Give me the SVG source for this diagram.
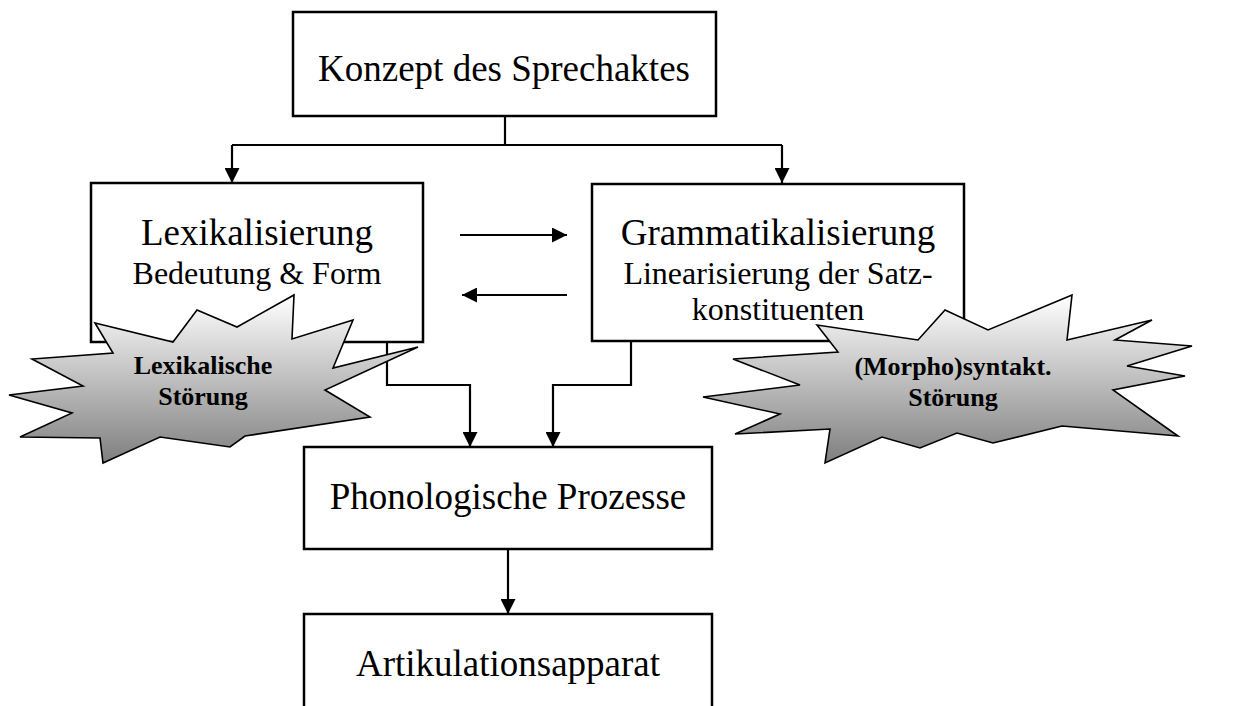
<svg xmlns="http://www.w3.org/2000/svg" width="1243" height="706" viewBox="0 0 1243 706">
  <defs>
    <marker id="arr" markerUnits="userSpaceOnUse" markerWidth="16" markerHeight="15" refX="15" refY="7.5" orient="auto">
      <path d="M0,0 L15,7.5 L0,15 z" fill="#000"/>
    </marker>
    <linearGradient id="burstFill" x1="0" y1="0" x2="0" y2="1">
      <stop offset="0" stop-color="#ffffff"/>
      <stop offset="1" stop-color="#7f7f7f"/>
    </linearGradient>
    <style>
      .box { fill: #fff; stroke: #000; stroke-width: 2.5; }
      .conn { fill: none; stroke: #000; stroke-width: 2.2; }
      .title { font-family: "Liberation Serif", "Times New Roman", serif; font-size: 37px; fill: #000; text-anchor: middle; }
      .sub { font-family: "Liberation Serif", "Times New Roman", serif; font-size: 32px; fill: #000; text-anchor: middle; }
      .burst { fill: url(#burstFill); stroke: #000; stroke-width: 1.6; stroke-linejoin: miter; }
      .btext { font-family: "Liberation Serif", "Times New Roman", serif; font-size: 26px; font-weight: bold; fill: #000; text-anchor: middle; }
    </style>
  </defs>

  <g id="connectors">
    <path class="conn" d="M505,116 V145"/>
    <path class="conn" d="M232,145 H782"/>
    <path class="conn" d="M232,145 V183" marker-end="url(#arr)"/>
    <path class="conn" d="M782,145 V183" marker-end="url(#arr)"/>
    <path class="conn" d="M460,235 H567" marker-end="url(#arr)"/>
    <path class="conn" d="M567,295 H462" marker-end="url(#arr)"/>
    <path class="conn" d="M387,342 V385 H470 V447" marker-end="url(#arr)"/>
    <path class="conn" d="M631,342 V385 H553 V447" marker-end="url(#arr)"/>
    <path class="conn" d="M508,549 V614" marker-end="url(#arr)"/>
  </g>

  <g id="konzept">
    <rect class="box" x="293" y="12" width="423" height="104"/>
    <text class="title" x="504" y="81">Konzept des Sprechaktes</text>
  </g>

  <g id="lexikalisierung">
    <rect class="box" x="91" y="183" width="332" height="159"/>
    <text class="title" x="257" y="245">Lexikalisierung</text>
    <text class="sub" x="257" y="284">Bedeutung &amp; Form</text>
  </g>

  <g id="grammatikalisierung">
    <rect class="box" x="592" y="184" width="372" height="157"/>
    <text class="title" x="778" y="245">Grammatikalisierung</text>
    <text class="sub" x="778" y="284">Linearisierung der Satz-</text>
    <text class="sub" x="778" y="320">konstituenten</text>
  </g>

  <g id="phonologie">
    <rect class="box" x="304" y="447" width="408" height="102"/>
    <text class="title" x="508" y="509">Phonologische Prozesse</text>
  </g>

  <g id="artikulation">
    <rect class="box" x="304" y="614" width="408" height="110"/>
    <text class="title" x="508" y="676">Artikulationsapparat</text>
  </g>

  <g id="lexikalische-stoerung">
    <polygon class="burst" points="95,323 113,353 32,359 83,386 9,395 72,413 20,437 100,438 103,463 160,437 230,447 245,436 370,417 325,390 418,347 333,368 353,320 292,339 294,295 237,327 197,310 173,342"/>
    <text class="btext" x="203" y="374">Lexikalische</text>
    <text class="btext" x="203" y="405">Störung</text>
  </g>

  <g id="syntakt-stoerung">
    <polygon class="burst" points="817,325 838,352 733,359 800,385 703,397 780,414 735,434 830,429 825,463 882,437 920,448 957,433 993,443 1062,426 1178,436 1113,390 1185,376 1127,366 1192,346 1115,340 1152,320 1067,340 1072,295 988,330 945,310 918,340"/>
    <text class="btext" x="953" y="375">(Morpho)syntakt.</text>
    <text class="btext" x="953" y="406">Störung</text>
  </g>
</svg>
